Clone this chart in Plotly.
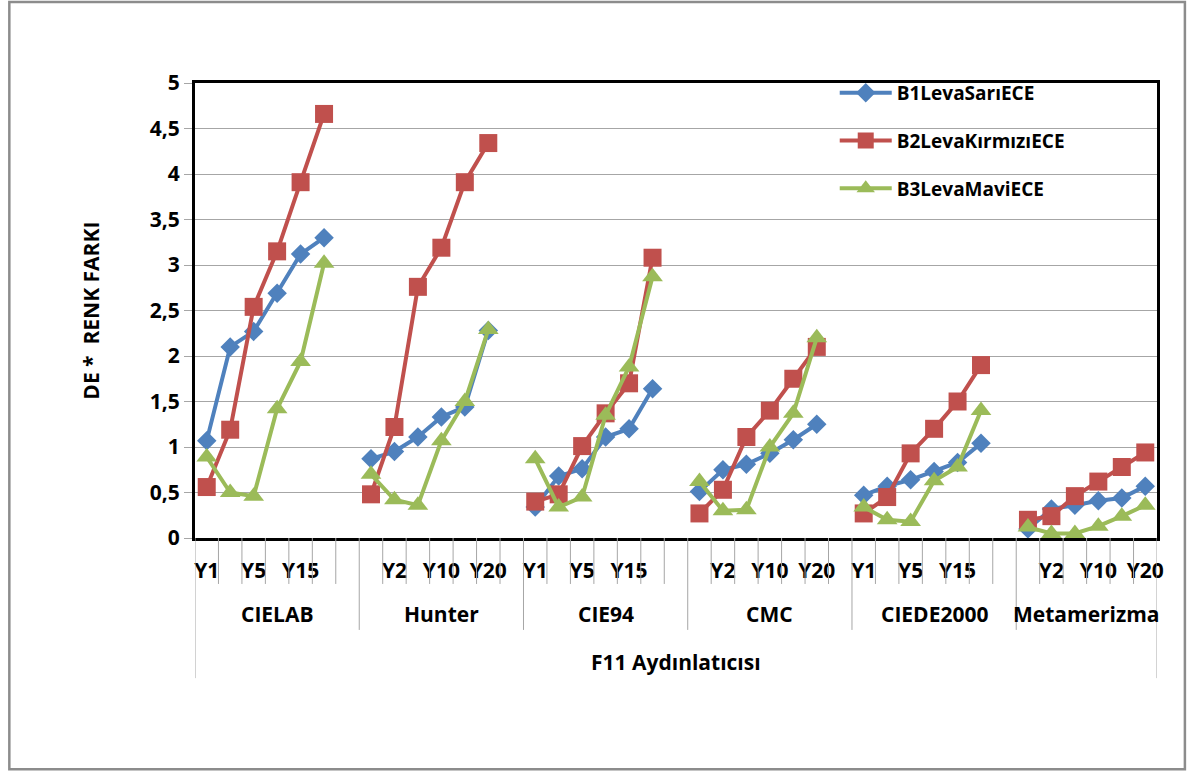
import plotly.graph_objects as go

# ---------------- data ----------------
groups = ["CIELAB", "Hunter", "CIE94", "CMC", "CIEDE2000", "Metamerizma"]
periods = ["Y1", "Y2", "Y5", "Y10", "Y15", "Y20"]
outer_label = "F11 Aydınlatıcısı"
series_names = ["B1LevaSarıECE", "B2LevaKırmızıECE", "B3LevaMaviECE"]

# values per group, in the order of `periods`
b1_sari = [
    [1.07, 2.10, 2.27, 2.69, 3.12, 3.30],   # CIELAB
    [0.87, 0.95, 1.11, 1.33, 1.44, 2.28],   # Hunter
    [0.34, 0.68, 0.76, 1.11, 1.20, 1.64],   # CIE94
    [0.51, 0.75, 0.81, 0.93, 1.08, 1.25],   # CMC
    [0.47, 0.57, 0.64, 0.73, 0.83, 1.04],   # CIEDE2000
    [0.10, 0.32, 0.36, 0.41, 0.44, 0.57],   # Metamerizma
]
b2_kirmizi = [
    [0.56, 1.19, 2.54, 3.15, 3.91, 4.66],
    [0.48, 1.22, 2.76, 3.19, 3.91, 4.34],
    [0.40, 0.48, 1.01, 1.37, 1.70, 3.08],
    [0.27, 0.53, 1.11, 1.40, 1.75, 2.10],
    [0.27, 0.45, 0.93, 1.20, 1.50, 1.90],
    [0.20, 0.24, 0.46, 0.62, 0.78, 0.94],
]
b3_mavi = [
    [0.89, 0.50, 0.46, 1.42, 1.94, 3.02],
    [0.70, 0.42, 0.36, 1.07, 1.50, 2.29],
    [0.87, 0.34, 0.45, 1.35, 1.88, 2.87],
    [0.62, 0.30, 0.31, 1.00, 1.37, 2.20],
    [0.34, 0.20, 0.18, 0.63, 0.78, 1.40],
    [0.12, 0.05, 0.05, 0.13, 0.24, 0.36],
]

y_tick_vals = [0, 0.5, 1, 1.5, 2, 2.5, 3, 3.5, 4, 4.5, 5]
y_tick_text = ["0", "0,5", "1", "1,5", "2", "2,5", "3", "3,5", "4", "4,5", "5"]

# ---------------- category layout ----------------
cat_labels = []
group_start = []
for gi, g in enumerate(groups):
    group_start.append(len(cat_labels))
    cat_labels += periods
    if gi < len(groups) - 1:
        cat_labels.append("")
n_cat = len(cat_labels)


def build_xy(values):
    xs, ys = [], []
    for gi, vals in enumerate(values):
        for pi, v in enumerate(vals):
            xs.append(group_start[gi] + pi)
            ys.append(v)
        xs.append(None)
        ys.append(None)
    return xs, ys


colors = ["#4F81BD", "#C0504D", "#9BBB59"]
symbols = ["diamond", "square", "triangle-up"]
sizes = [15, 18, 18]

FONT = "Open Sans"
FS = 21
fig = go.Figure()
for i, vals in enumerate([b1_sari, b2_kirmizi, b3_mavi]):
    xs, ys = build_xy(vals)
    fig.add_trace(go.Scatter(
        x=xs, y=ys, name=series_names[i], mode="lines+markers",
        legendgroup=series_names[i],
        line=dict(color=colors[i], width=4),
        marker=dict(symbol=symbols[i], size=sizes[i], color=colors[i]),
        connectgaps=False,
    ))

# ---------------- axis decorations ----------------
shapes = []
group_bounds = set([group_start[gi] - 0.5 for gi in range(1, len(groups))])
outer_bounds = {-0.5, n_cat - 0.5}
for k in range(n_cat + 1):
    b = k - 0.5
    if b in outer_bounds:
        y0 = -0.308
    elif b in group_bounds:
        y0 = -0.202
    else:
        y0 = -0.101
    shapes.append(dict(type="line", xref="x", yref="paper", x0=b, x1=b,
                       y0=0, y1=y0, line=dict(color="#A6A6A6", width=1)))

# outer chart border
shapes.append(dict(type="rect", xref="paper", yref="paper",
                   x0=-0.193, x1=1.029, y0=-0.508, y1=1.178,
                   line=dict(color="#8C8C8C", width=2.5), fillcolor="rgba(0,0,0,0)"))

annotations = []
for gi, g in enumerate(groups):
    center = group_start[gi] + (len(periods) - 1) / 2 + (0.5 if gi < len(groups) - 1 else 0)
    annotations.append(dict(x=center, y=-0.168, xref="x", yref="paper", text=g,
                            showarrow=False, xanchor="center", yanchor="middle",
                            font=dict(family=FONT, size=FS, color="black", weight="bold")))
annotations.append(dict(x=0.5, y=-0.273, xref="paper", yref="paper", text=outer_label,
                        showarrow=False, xanchor="center", yanchor="middle",
                        font=dict(family=FONT, size=FS, color="black", weight="bold")))
annotations.append(dict(x=-0.109, y=0.5, xref="paper", yref="paper",
                        text="DE *\u00a0 RENK FARKI", textangle=-90,
                        showarrow=False, xanchor="center", yanchor="middle",
                        font=dict(family=FONT, size=FS, color="black", weight="bold")))

fig.update_layout(
    width=1195, height=774,
    margin=dict(l=195, r=38, t=83, b=236, autoexpand=False),
    paper_bgcolor="white", plot_bgcolor="white",
    showlegend=True,
    legend=dict(x=0.665, y=1.02, xanchor="left", yanchor="top",
                bgcolor="rgba(0,0,0,0)", tracegroupgap=20, itemwidth=52,
                font=dict(family=FONT, size=19, color="black", weight="bold")),
    shapes=shapes, annotations=annotations,
    xaxis=dict(range=[-0.5, n_cat - 0.5], tickmode="array",
               tickvals=list(range(0, n_cat, 2)), ticktext=cat_labels[::2],
               ticks="outside", ticklen=12, tickcolor="rgba(0,0,0,0)",
               showgrid=False, zeroline=False, showline=True, linecolor="black",
               linewidth=3, mirror=True,
               tickfont=dict(family=FONT, size=FS, color="black", weight="bold")),
    yaxis=dict(range=[0, 5], tickmode="array", tickvals=y_tick_vals, ticktext=y_tick_text,
               ticks="outside", ticklen=8, tickcolor="#A6A6A6",
               showgrid=True, gridcolor="#A6A6A6", gridwidth=1,
               zeroline=False, showline=True, linecolor="black", linewidth=3, mirror=True,
               tickfont=dict(family=FONT, size=FS, color="black", weight="bold")),
)

fig.write_html("out.html")
